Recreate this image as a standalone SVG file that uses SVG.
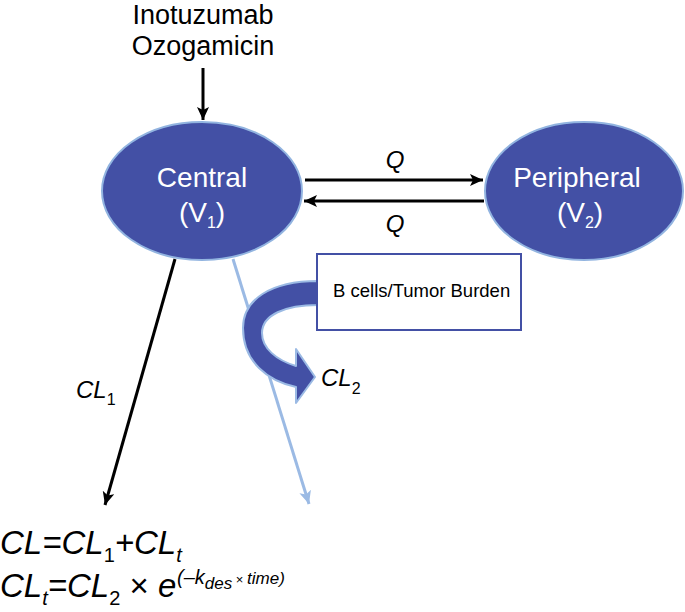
<svg xmlns="http://www.w3.org/2000/svg" width="685" height="612" viewBox="0 0 685 612">
  <defs>
    <marker id="ah" markerUnits="userSpaceOnUse" markerWidth="14" markerHeight="14" refX="13" refY="6" orient="auto">
      <path d="M0,0 L13,6 L0,12 L3,6 Z" fill="#000"/>
    </marker>
    <marker id="ahb" markerUnits="userSpaceOnUse" markerWidth="14" markerHeight="14" refX="13" refY="6" orient="auto">
      <path d="M0,0 L13,6 L0,12 L3,6 Z" fill="#9bbae4"/>
    </marker>
    <style>
      .t { font-family: "Liberation Sans", Arial, sans-serif; fill: #000; }
      .w { font-family: "Liberation Sans", Arial, sans-serif; fill: #fff; font-size: 28px; text-anchor: middle; }
      .i { font-style: italic; }
      .node { fill: #4350a5; stroke: #92b4e0; stroke-width: 2; }
      .blk { stroke: #000; stroke-width: 3; fill: none; marker-end: url(#ah); }
      .lb { stroke: #9bbae4; stroke-width: 3; fill: none; marker-end: url(#ahb); }
    </style>
  </defs>
  <rect width="685" height="612" fill="#fff"/>

  <g id="connectors">
    <line class="blk" x1="203" y1="68" x2="203" y2="120"/>
    <line class="blk" x1="305" y1="180" x2="483" y2="180"/>
    <line class="blk" x1="484" y1="201" x2="304" y2="201"/>
    <line class="blk" x1="175" y1="259" x2="105" y2="505"/>
    <line class="lb" x1="233" y1="259" x2="309" y2="504"/>
  </g>

  <g id="label-drug">
    <text class="t" x="203" y="24" font-size="27" text-anchor="middle">Inotuzumab</text>
    <text class="t" x="203" y="55" font-size="27" text-anchor="middle">Ozogamicin</text>
  </g>

  <g id="central">
    <ellipse class="node" cx="202" cy="191" rx="100" ry="69"/>
    <text class="w" x="202" y="187">Central</text>
    <text class="w" x="202" y="222">(V<tspan font-size="16" dy="6">1</tspan><tspan dy="-6">)</tspan></text>
  </g>

  <g id="peripheral">
    <ellipse class="node" cx="584" cy="191" rx="99" ry="69"/>
    <text class="w" x="577" y="187">Peripheral</text>
    <text class="w" x="580" y="222">(V<tspan font-size="16" dy="6">2</tspan><tspan dy="-6">)</tspan></text>
  </g>

  <g id="q-labels">
    <text class="t i" x="395" y="168" font-size="24" text-anchor="middle">Q</text>
    <text class="t i" x="395" y="232" font-size="24" text-anchor="middle">Q</text>
  </g>

  <g id="curved-arrow">
    <path d="M318,281 C270,281 243,300 243,328 C243,362 268,381 296,387 L296,403 L315,377 L296,349 L296,366 C276,360 262,348 262,333 C262,315 285,305 318,305 Z" fill="#4350a5" stroke="#9bbae4" stroke-width="2" stroke-linejoin="round"/>
  </g>

  <g id="bcells">
    <rect x="317" y="254" width="204" height="76" fill="#fff" stroke="#4350a5" stroke-width="2"/>
    <text class="t" x="333" y="297" font-size="18.5">B cells/Tumor Burden</text>
  </g>

  <g id="cl1-label">
    <text class="t i" x="76" y="398" font-size="24">CL<tspan font-size="16" font-style="normal" dy="7">1</tspan></text>
  </g>

  <g id="cl2-label">
    <text class="t i" x="321" y="386" font-size="24">CL<tspan font-size="16" font-style="normal" dy="8">2</tspan></text>
  </g>

  <g id="equations">
    <text class="t i" x="0" y="554" font-size="33">CL=CL<tspan font-size="20" font-style="normal" dy="8">1</tspan><tspan dy="-8">+CL</tspan><tspan font-size="20" dy="8">t</tspan></text>
    <text class="t i" x="0" y="597" font-size="33">CL<tspan font-size="20" dy="8">t</tspan><tspan dy="-8">=CL</tspan><tspan font-size="20" font-style="normal" dy="8">2</tspan><tspan dy="-8" font-style="normal"> × </tspan><tspan>e</tspan></text>
    <text class="t i" x="177" y="584" font-size="20">(–k<tspan font-size="17" dy="5">des</tspan><tspan font-size="13" font-style="normal" dy="-5"> × </tspan><tspan font-size="17">time)</tspan></text>
  </g>
</svg>
